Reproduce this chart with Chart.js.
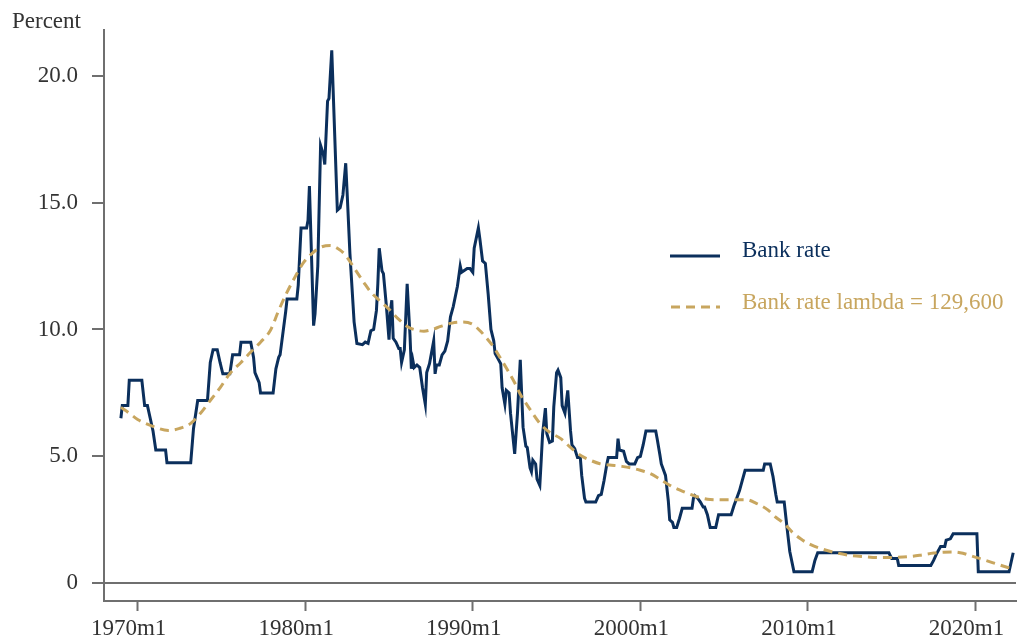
<!DOCTYPE html>
<html>
<head>
<meta charset="utf-8">
<script src="https://cdn.jsdelivr.net/npm/chart.js@4.4.1/dist/chart.umd.min.js"></script>
<style>
  html, body { margin: 0; padding: 0; background: #ffffff; }
  #wrap { position: relative; width: 1018px; height: 641px; }
  #ylabel { position: absolute; left: 12px; top: 8px; font: 23px "Liberation Serif", serif; color: #333333; }
  .leg { position: absolute; font: 23px "Liberation Serif", serif; white-space: nowrap; }
  .legline { position: absolute; }
</style>
</head>
<body>
<div id="wrap">
  <canvas id="c" width="1018" height="641"></canvas>
  <div id="ylabel">Percent</div>
  <svg class="legline" style="left:668px;top:246px" width="54" height="20"><line x1="2" y1="10" x2="52" y2="10" stroke="#0b2f5c" stroke-width="3"/></svg>
  <div class="leg" style="left:742px;top:237px;color:#0b2f5c">Bank rate</div>
  <svg class="legline" style="left:668px;top:297px" width="54" height="20"><line x1="3" y1="10" x2="52" y2="10" stroke="#c8a65f" stroke-width="3" stroke-dasharray="9,6"/></svg>
  <div class="leg" style="left:742px;top:289px;color:#c8a65f">Bank rate lambda = 129,600</div>
</div>
<script>
// Months counted from 1970m1 (0 = 1970m1)
const bankMonths = [-12,-11,-7,-6,3,5,7,9,11,13,20,21,38,40,43,50,52,54,57,59,61,66,68,73,74,81,83,84,87,88,97,99,101,102,106,107,114,115,117,121,122,123,126,127,129,131,133,134,136,137,139,143,145,147,149,150,152,155,157,161,163,165,167,169,171,172,173,175,176,178,180,181,182,183,185,187,188,189,191,193,195,196,197,198,200,202,204,206,207,209,212,213,214,216,218,220,222,224,226,229,231,232,236,238,240,241,244,245,247,249,251,253,255,256,258,260,261,263,264,266,267,270,272,274,275,276,278,279,281,282,283,285,286,288,289,290,292,293,295,297,298,300,301,303,304,306,308,310,311,313,315,317,318,320,321,328,330,332,334,336,337,343,344,345,348,350,352,356,358,360,362,364,371,372,374,375,378,380,381,383,384,386,388,390,397,398,399,401,403,405,406,408,410,414,416,425,427,429,431,433,435,448,449,453,455,457,458,463,465,467,470,483,485,487,538,540,544,545,568,570,572,575,578,579,582,584,601,602,624,627];
const bankValues = [6.5,7.0,7.0,8.0,8.0,7.0,7.0,6.5,6.0,5.25,5.25,4.75,4.75,6.1,7.2,7.2,8.7,9.2,9.2,8.7,8.25,8.25,9.0,9.0,9.5,9.5,8.9,8.3,7.9,7.5,7.5,8.45,8.9,9.0,10.7,11.2,11.2,11.75,14.0,14.0,14.3,15.65,10.15,10.6,12.5,17.25,16.9,16.5,19.0,19.1,21.0,14.7,14.8,15.3,16.55,15.4,13.0,10.3,9.45,9.4,9.5,9.45,9.95,10.0,10.75,11.8,13.2,12.3,12.2,11.0,9.6,10.75,11.15,9.65,9.5,9.25,9.25,8.7,9.2,11.8,9.8,8.45,8.8,8.5,8.6,8.5,7.7,7.05,8.3,8.65,9.55,8.25,8.6,8.6,9.0,9.15,9.55,10.5,10.9,11.7,12.5,12.25,12.4,12.4,12.25,13.2,14.0,13.6,12.7,12.6,11.4,10.0,9.55,9.05,8.85,8.65,7.7,7.05,7.6,7.5,6.7,5.1,6.7,8.8,7.45,6.15,5.4,5.35,4.55,4.4,4.85,4.7,4.1,3.85,4.85,5.9,6.9,5.9,5.55,5.6,6.95,8.3,8.4,8.1,7.0,6.7,7.6,6.0,5.45,5.3,4.95,4.95,4.25,3.35,3.2,3.2,3.45,3.5,4.05,4.7,4.95,4.95,5.7,5.25,5.2,4.8,4.7,4.7,4.95,5.0,5.45,6.0,6.0,5.7,5.05,4.7,4.25,3.25,2.5,2.4,2.2,2.2,2.55,2.95,2.95,3.35,3.45,3.35,3.2,3.0,3.0,2.7,2.2,2.2,2.7,2.7,3.05,3.35,3.65,4.05,4.45,4.45,4.7,4.7,4.2,3.5,3.2,3.2,2.2,1.25,0.45,0.45,0.9,1.2,1.2,0.97,0.97,0.7,0.7,0.9,1.15,1.45,1.45,1.7,1.75,1.95,1.95,0.45,0.45,1.2];

const trendMonths = [-12,-6,0,10,22,30,38,45,52,59,66,74,81,88,95,101,107,113,119,125,131,138,143,148,153,157,162,167,173,179,186,193,199,205,211,217,225,233,240,245,250,255,260,265,270,274,281,288,295,303,310,317,324,331,338,346,353,360,367,374,381,388,396,403,410,418,426,436,443,451,457,463,469,475,482,489,500,510,520,532,542,551,560,570,577,584,591,598,606,614,622,626];
const trendValues = [6.93,6.7,6.45,6.2,6.02,6.1,6.3,6.7,7.2,7.7,8.26,8.7,9.11,9.5,9.96,10.75,11.47,12.1,12.65,13.0,13.24,13.31,13.2,12.98,12.6,12.26,11.85,11.47,11.15,10.85,10.45,10.12,9.98,9.93,10.0,10.12,10.25,10.29,10.2,9.96,9.65,9.3,8.85,8.39,7.9,7.45,6.85,6.3,5.95,5.7,5.35,5.04,4.85,4.71,4.66,4.61,4.55,4.45,4.32,4.1,3.86,3.68,3.5,3.37,3.3,3.29,3.29,3.29,3.15,2.9,2.6,2.35,2.0,1.74,1.52,1.37,1.2,1.1,1.05,1.01,1.02,1.04,1.1,1.19,1.22,1.23,1.18,1.06,0.92,0.78,0.64,0.58];

const xTickMonths = [0,120,240,360,480,600];
const xTickLabels = ['1970m1','1980m1','1990m1','2000m1','2010m1','2020m1'];
const yTickValues = [0,5,10,15,20];
const yTickLabels = ['0','5.0','10.0','15.0','20.0'];

const AXIS = '#6f6f6f';
const TXT = '#333333';
const FONT = { family: '"Liberation Serif", serif', size: 23 };

new Chart(document.getElementById('c'), {
  type: 'line',
  data: {
    datasets: [
      { label: 'Bank rate', data: bankMonths.map((m, i) => ({ x: m, y: bankValues[i] })),
        borderColor: '#0b2f5c', borderWidth: 3, pointRadius: 0, tension: 0, order: 1 },
      { label: 'Bank rate lambda = 129,600', data: trendMonths.map((m, i) => ({ x: m, y: trendValues[i] })),
        borderColor: '#c8a65f', borderWidth: 3, borderDash: [9, 6], pointRadius: 0,
        cubicInterpolationMode: 'monotone', order: 0 }
    ]
  },
  options: {
    responsive: false,
    animation: false,
    layout: { padding: { top: 30, right: 2, left: 0, bottom: 0 } },
    plugins: { legend: { display: false }, tooltip: { enabled: false } },
    scales: {
      x: {
        type: 'linear', min: -24.1, max: 629,
        afterBuildTicks: s => { s.ticks = xTickMonths.map(v => ({ value: v })); },
        afterFit: s => { s.height = 40; },
        border: { display: true, color: AXIS, width: 2 },
        grid: { drawOnChartArea: false, drawTicks: true, tickLength: 10, tickColor: AXIS, tickWidth: 2, color: AXIS },
        ticks: { font: FONT, color: TXT, padding: 4, maxRotation: 0, labelOffset: -9,
          callback: (v) => { const i = xTickMonths.indexOf(v); return i >= 0 ? xTickLabels[i] : ''; } }
      },
      y: {
        type: 'linear', min: -0.7, max: 21.8,
        afterBuildTicks: s => { s.ticks = yTickValues.map(v => ({ value: v })); },
        afterFit: s => { s.width = 104; },
        border: { display: true, color: AXIS, width: 2 },
        grid: { drawOnChartArea: true, drawTicks: true, tickLength: 12, tickColor: AXIS, tickWidth: 2, lineWidth: 2,
          color: c => (c.tick && c.tick.value === 0) ? AXIS : 'rgba(0,0,0,0)' },
        ticks: { font: FONT, color: TXT, padding: 14,
          callback: (v) => { const i = yTickValues.indexOf(v); return i >= 0 ? yTickLabels[i] : ''; } }
      }
    }
  }
});
</script>
</body>
</html>
